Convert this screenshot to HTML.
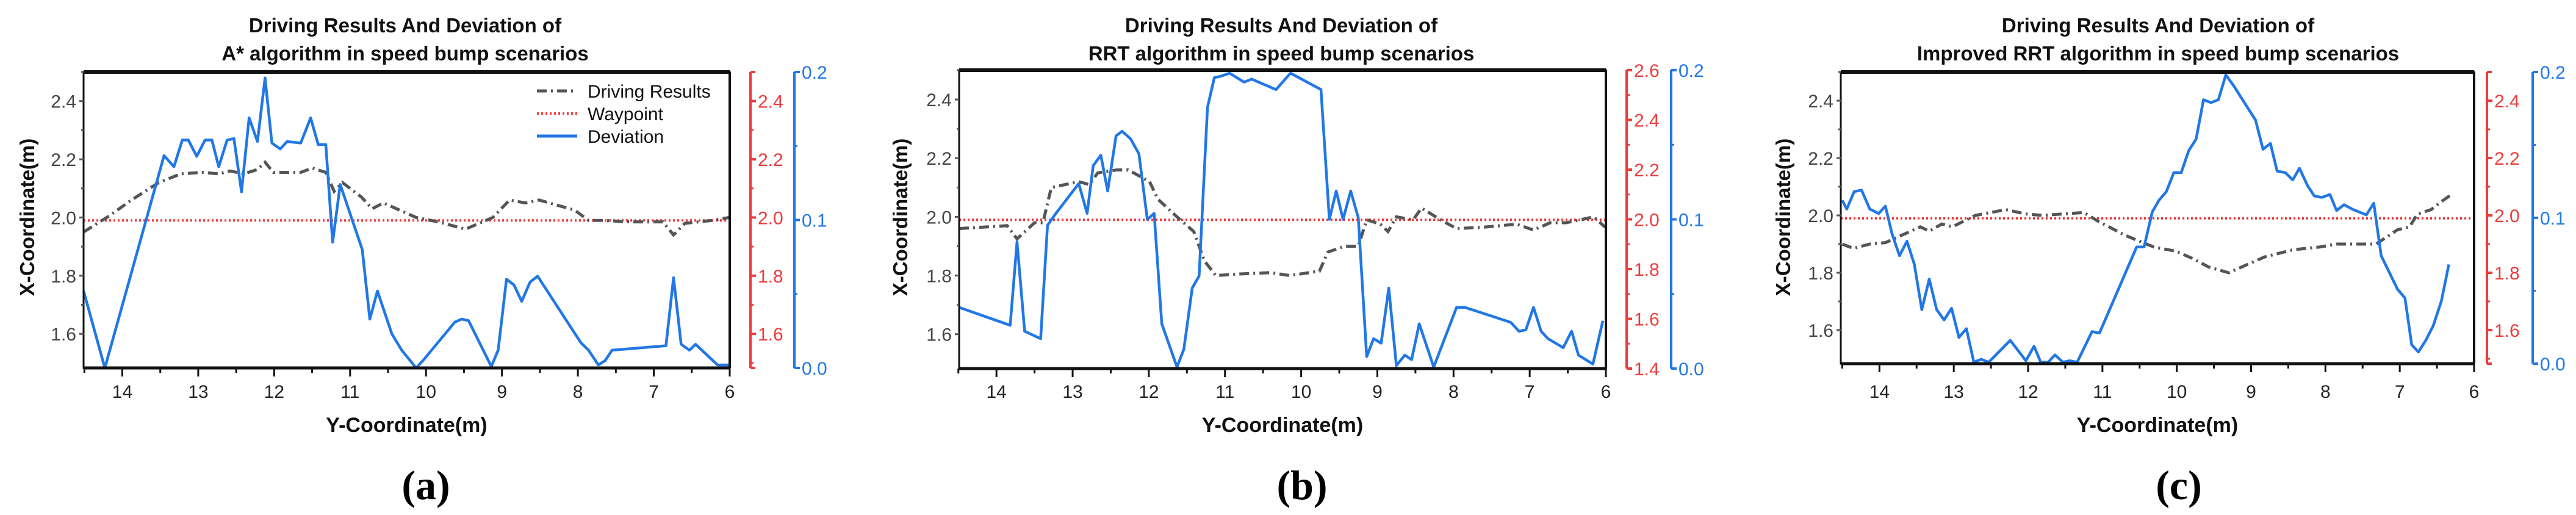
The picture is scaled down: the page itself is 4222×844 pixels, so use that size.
<!DOCTYPE html>
<html><head><meta charset="utf-8"><style>
html,body{margin:0;padding:0;background:#fff;}
svg{display:block;}
text{font-family:"Liberation Sans",Arial,sans-serif;}
</style></head><body>
<svg id="fig" width="4222" height="844" viewBox="0 0 4222 844" xmlns="http://www.w3.org/2000/svg"></svg>
<script>
// ---- data: panel a (A*) ----
const aDevX=[14.51,14.23,13.45,13.32,13.21,13.13,13.02,12.91,12.82,12.73,12.62,12.53,12.43,12.33,12.22,12.12,12.03,11.92,11.83,11.65,11.52,11.42,11.32,11.23,11.13,10.84,10.74,10.64,10.45,10.32,10.13,10.04,9.62,9.53,9.44,9.14,9.05,8.94,8.84,8.74,8.63,8.53,7.96,7.86,7.73,7.64,7.55,6.84,6.74,6.64,6.53,6.45,6.16,6.01];
const aDevV=[0.052,0.000,0.1435,0.136,0.154,0.154,0.143,0.154,0.154,0.136,0.154,0.155,0.119,0.169,0.153,0.196,0.152,0.148,0.153,0.152,0.169,0.151,0.151,0.085,0.124,0.080,0.033,0.052,0.023,0.012,0.000,0.005,0.031,0.033,0.032,0.001,0.012,0.060,0.056,0.045,0.058,0.062,0.017,0.012,0.002,0.005,0.012,0.015,0.061,0.016,0.012,0.016,0.002,0.002];
const aDrvX=[14.51,14.17,13.88,13.52,13.23,12.95,12.73,12.58,12.40,12.22,12.12,12.01,11.65,11.50,11.32,11.21,11.10,10.85,10.71,10.56,10.13,9.84,9.48,9.12,8.90,8.69,8.51,8.04,7.86,7.68,7.31,6.88,6.74,6.59,6.23,6.01];
const aDrvV=[1.95,2.006,2.06,2.12,2.15,2.155,2.15,2.16,2.15,2.165,2.19,2.155,2.155,2.17,2.155,2.09,2.12,2.07,2.03,2.05,2.0,1.985,1.96,2.0,2.06,2.05,2.06,2.025,1.99,1.99,1.985,1.985,1.94,1.98,1.99,2.0];
// ---- data: panel b (RRT) ----
const bDevX=[14.49,13.82,13.73,13.63,13.42,13.33,13.22,12.92,12.81,12.73,12.63,12.54,12.43,12.35,12.24,12.13,12.02,11.93,11.83,11.63,11.54,11.43,11.34,11.23,11.14,11.05,10.94,10.75,10.65,10.33,10.14,9.74,9.63,9.54,9.45,9.35,9.25,9.14,9.05,8.95,8.85,8.75,8.64,8.55,8.45,8.26,7.96,7.85,7.25,7.14,7.05,6.95,6.85,6.76,6.56,6.45,6.36,6.17,6.04];
const bDevV=[0.041,0.029,0.085,0.025,0.020,0.096,0.104,0.124,0.104,0.136,0.143,0.119,0.156,0.159,0.154,0.144,0.100,0.104,0.030,0.001,0.013,0.054,0.062,0.175,0.195,0.196,0.198,0.192,0.194,0.187,0.198,0.187,0.100,0.119,0.100,0.119,0.101,0.008,0.020,0.017,0.054,0.002,0.009,0.006,0.030,0.001,0.041,0.041,0.031,0.025,0.026,0.041,0.025,0.020,0.014,0.025,0.009,0.003,0.032];
const bDrvX=[14.49,13.86,13.73,13.50,13.39,13.28,12.92,12.78,12.67,12.42,12.27,11.99,11.88,11.63,11.41,11.27,11.12,10.83,10.40,10.15,9.76,9.65,9.43,9.25,9.14,8.96,8.86,8.75,8.53,8.42,8.17,7.96,7.60,7.17,6.95,6.73,6.52,6.16,6.01];
const bDrvV=[1.96,1.97,1.925,1.98,1.98,2.10,2.12,2.11,2.15,2.16,2.16,2.12,2.06,2.0,1.95,1.85,1.80,1.805,1.81,1.80,1.815,1.88,1.90,1.90,1.99,1.975,1.95,2.0,1.99,2.03,1.99,1.96,1.965,1.975,1.955,1.98,1.98,2.0,1.965];
// ---- data: panel c (Improved RRT) ----
const cDevX=[14.50,14.44,14.34,14.24,14.13,14.01,13.92,13.83,13.73,13.63,13.53,13.43,13.33,13.23,13.13,13.03,12.93,12.83,12.73,12.63,12.53,12.24,12.03,11.92,11.83,11.73,11.64,11.53,11.44,11.34,11.14,11.04,10.54,10.44,10.33,10.24,10.14,10.04,9.94,9.84,9.74,9.64,9.54,9.44,9.34,9.24,8.94,8.84,8.74,8.65,8.54,8.44,8.35,8.24,8.15,8.05,7.94,7.85,7.75,7.64,7.45,7.35,7.25,7.03,6.93,6.84,6.75,6.65,6.55,6.44,6.34];
const cDevV=[0.112,0.106,0.118,0.119,0.106,0.103,0.108,0.089,0.074,0.084,0.068,0.037,0.058,0.037,0.030,0.038,0.018,0.024,0.001,0.003,0.001,0.016,0.002,0.012,0.001,0.001,0.006,0.001,0.002,0.001,0.022,0.021,0.080,0.080,0.104,0.112,0.118,0.131,0.131,0.146,0.154,0.181,0.179,0.181,0.198,0.191,0.167,0.147,0.151,0.132,0.131,0.126,0.134,0.122,0.115,0.114,0.116,0.105,0.109,0.106,0.102,0.110,0.074,0.051,0.045,0.013,0.008,0.016,0.026,0.043,0.068];
const cDrvX=[14.50,14.35,14.13,13.92,13.75,13.45,13.33,13.16,13.02,12.71,12.30,12.03,11.81,11.25,11.06,10.69,10.31,10.01,9.79,9.57,9.30,9.04,8.82,8.44,8.07,7.85,7.32,7.03,6.87,6.76,6.58,6.43,6.32];
const cDrvV=[1.90,1.885,1.90,1.905,1.925,1.96,1.945,1.97,1.96,2.0,2.02,2.005,2.0,2.01,1.98,1.93,1.89,1.875,1.85,1.82,1.80,1.83,1.855,1.88,1.89,1.90,1.90,1.95,1.96,2.005,2.02,2.05,2.07];
const waypoint=[1.99,1.99,1.99];
const xTicks=[14,13,12,11,10,9,8,7,6];
const leftTicks=[1.6,1.8,2.0,2.2,2.4];
const blueTicks=[0.0,0.1,0.2];
const titles2=["A* algorithm in speed bump scenarios","RRT algorithm in speed bump scenarios","Improved RRT algorithm in speed bump scenarios"];
const letters=["(a)","(b)","(c)"];

const NS="http://www.w3.org/2000/svg";
const svg=document.getElementById('fig');
function mk(tag,attrs,parent){const e=document.createElementNS(NS,tag);for(const k in attrs)e.setAttribute(k,attrs[k]);(parent||svg).appendChild(e);return e;}
function txt(s,attrs,parent){const e=mk('text',attrs,parent);e.textContent=s;return e;}

const panels=[
 {L:137,R:1196,T:118,B:603,x0:14.51,x1:6,y0:1.483,y1:2.5,redX:1230,rd:[1.483,2.5],redTicks:[1.6,1.8,2.0,2.2,2.4],blueX:1302,cx:664,ytx:45,dev:[aDevX,aDevV],drv:[aDrvX,aDrvV],legend:true},
 {L:1572,R:2632,T:115,B:604,x0:14.49,x1:6,y0:1.483,y1:2.5,redX:2666,rd:[1.4,2.6],redTicks:[1.4,1.6,1.8,2.0,2.2,2.4,2.6],blueX:2739,cx:2100,ytx:1476,dev:[bDevX,bDevV],drv:[bDrvX,bDrvV],legend:false},
 {L:3017,R:4055,T:118,B:596,x0:14.52,x1:6,y0:1.483,y1:2.5,redX:4076,rd:[1.483,2.5],redTicks:[1.6,1.8,2.0,2.2,2.4],blueX:4151,cx:3537,ytx:2923,dev:[cDevX,cDevV],drv:[cDrvX,cDrvV],legend:false}
];

panels.forEach((p,i)=>{
 const g=mk('g',{});
 
 
 const sx=v=>p.L+(p.x0-v)/(p.x0-p.x1)*(p.R-p.L);
 const sy=v=>p.B-(v-p.y0)/(p.y1-p.y0)*(p.B-p.T);
 const sr=v=>p.B-(v-p.rd[0])/(p.rd[1]-p.rd[0])*(p.B-p.T);
 const sb=v=>p.B-v/0.2*(p.B-p.T);
 const t1=txt('Driving Results And Deviation of',{x:p.cx,y:53,'text-anchor':'middle','font-size':33,'font-weight':'bold',fill:'#111'},g);
 
 const t2=txt(titles2[i],{x:p.cx,y:99,'text-anchor':'middle','font-size':33,'font-weight':'bold',fill:'#111'},g);
 
 const wp=mk('line',{x1:p.L,x2:p.R,y1:sy(waypoint[i]),y2:sy(waypoint[i]),stroke:'#ee3b3b','stroke-width':4,'stroke-dasharray':'3 4'},g);
 
 const dr=mk('polyline',{points:p.drv[0].map((x,k)=>sx(x)+','+sy(p.drv[1][k])).join(' '),fill:'none',stroke:'#555','stroke-width':5,'stroke-dasharray':'16 7 3 7'},g);
 
 const dv=mk('polyline',{points:p.dev[0].map((x,k)=>sx(x)+','+sb(p.dev[1][k])).join(' '),fill:'none',stroke:'#2277e6','stroke-width':4.5,'stroke-linejoin':'round'},g);
 
 const fr=mk('rect',{x:p.L,y:p.T,width:p.R-p.L,height:p.B-p.T,fill:'none',stroke:'#111','stroke-width':3},g);
 
 mk('line',{x1:p.L,x2:p.R,y1:p.T,y2:p.T,stroke:'#111','stroke-width':6},g);
 mk('line',{x1:p.L,x2:p.R,y1:p.B,y2:p.B,stroke:'#111','stroke-width':5},g);
 mk('line',{x1:p.R,x2:p.R,y1:p.T,y2:p.B,stroke:'#111','stroke-width':4},g);
 xTicks.forEach(v=>{
  mk('line',{x1:sx(v),x2:sx(v),y1:p.B,y2:p.B+14,stroke:'#111','stroke-width':3},g);
  if(v>6){mk('line',{x1:sx(v-0.5),x2:sx(v-0.5),y1:p.B,y2:p.B+8,stroke:'#111','stroke-width':3},g);}
  const t=txt(String(v),{x:sx(v),y:652,'text-anchor':'middle','font-size':30,fill:'#222'},g);
  
 });
 mk('line',{x1:sx(14.5),x2:sx(14.5),y1:p.B,y2:p.B+8,stroke:'#111','stroke-width':3},g);
 leftTicks.forEach(v=>{
  mk('line',{x1:p.L-7,x2:p.L,y1:sy(v),y2:sy(v),stroke:'#555','stroke-width':3},g);
  mk('line',{x1:p.L-4,x2:p.L,y1:sy(v+0.1),y2:sy(v+0.1),stroke:'#555','stroke-width':3},g);
  const t=txt(v.toFixed(1),{x:p.L-12,y:sy(v)+11,'text-anchor':'end','font-size':30,fill:'#444'},g);
  
 });
 const ra=mk('line',{x1:p.redX,x2:p.redX,y1:p.T,y2:p.B,stroke:'#ee3b3b','stroke-width':4},g);
 
 mk('line',{x1:p.redX,x2:p.redX+8,y1:p.T,y2:p.T,stroke:'#ee3b3b','stroke-width':4},g);
 mk('line',{x1:p.redX,x2:p.redX+8,y1:p.B,y2:p.B,stroke:'#ee3b3b','stroke-width':4},g);
 p.redTicks.forEach(v=>{
  mk('line',{x1:p.redX,x2:p.redX+9,y1:sr(v),y2:sr(v),stroke:'#ee3b3b','stroke-width':4},g);
  if(v+0.1<p.rd[1])mk('line',{x1:p.redX,x2:p.redX+5,y1:sr(v+0.1),y2:sr(v+0.1),stroke:'#ee3b3b','stroke-width':3},g);
  const t=txt(v.toFixed(1),{x:p.redX+12,y:sr(v)+11,'font-size':30,fill:'#ee3b3b'},g);
  
 });
 if(p.rd[0]>1.45)mk('line',{x1:p.redX,x2:p.redX+5,y1:sr(1.5),y2:sr(1.5),stroke:'#ee3b3b','stroke-width':3},g);
 const ba=mk('line',{x1:p.blueX,x2:p.blueX,y1:p.T,y2:p.B,stroke:'#2277e6','stroke-width':4},g);
 
 blueTicks.forEach(v=>{
  mk('line',{x1:p.blueX,x2:p.blueX+9,y1:sb(v),y2:sb(v),stroke:'#2277e6','stroke-width':4},g);
  if(v<0.2)mk('line',{x1:p.blueX,x2:p.blueX+5,y1:sb(v+0.05),y2:sb(v+0.05),stroke:'#2277e6','stroke-width':3},g);
  const t=txt(v.toFixed(1),{x:p.blueX+12,y:sb(v)+11,'font-size':30,fill:'#2277e6'},g);
  
 });
 const xt=txt('Y-Coordinate(m)',{x:(p.L+p.R)/2,y:708,'text-anchor':'middle','font-size':34,'font-weight':'bold',fill:'#111'},g);
 
 const yt=txt('X-Coordinate(m)',{x:0,y:0,'text-anchor':'middle','font-size':33,'font-weight':'bold',fill:'#111',transform:'translate('+(p.ytx+11)+',356) rotate(-90)'},g);
 
 const lt=txt(letters[i],{x:p.cx+34,y:818,'text-anchor':'middle','font-size':68,'font-weight':'bold',style:'font-family:"Liberation Serif",serif',fill:'#000'},g);
 
 if(p.legend){
  const lg=mk('g',{},g);
  
  mk('line',{x1:880,x2:946,y1:149,y2:149,stroke:'#555','stroke-width':5,'stroke-dasharray':'16 7 3 7'},lg);
  txt('Driving Results',{x:963,y:160,'font-size':30,fill:'#111'},lg);
  mk('line',{x1:880,x2:946,y1:186,y2:186,stroke:'#ee3b3b','stroke-width':4,'stroke-dasharray':'3 4'},lg);
  txt('Waypoint',{x:963,y:197,'font-size':30,fill:'#111'},lg);
  mk('line',{x1:880,x2:946,y1:223,y2:223,stroke:'#2277e6','stroke-width':5},lg);
  txt('Deviation',{x:963,y:234,'font-size':30,fill:'#111'},lg);
 }
});
</script>
</body></html>
